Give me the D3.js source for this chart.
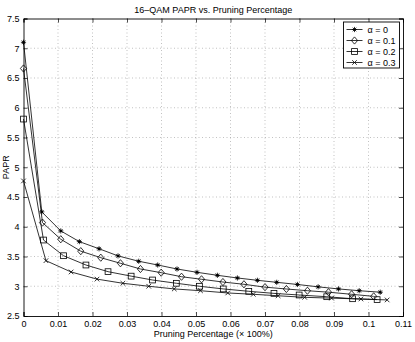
<!DOCTYPE html>
<html>
<head>
<meta charset="UTF-8">
<title>16-QAM PAPR</title>
<script type="text/javascript" src="https://d3js.org/d3.v7.min.js"></script>
<style type="text/css">
    body { margin: 0; background: #fff; }
    svg text { font-family: "Liberation Sans", Arial, sans-serif; fill: #000; }
    .grid line { stroke: #999; stroke-width: 0.6; stroke-dasharray: 1, 2.5; }
    .curve { fill: none; stroke: #000; stroke-width: 0.8; }
    .mk { fill: none; stroke: #000; stroke-width: 0.8; }
</style>
</head>
<body>
<script type="text/javascript">
    // series
    var x0 = [0, 0.0053, 0.0108, 0.0162, 0.0219, 0.0274, 0.0334, 0.0389, 0.0445, 0.0503, 0.0562, 0.0620, 0.0678, 0.0734, 0.0794, 0.0854, 0.0913, 0.0973, 0.1034];
    var y0 = [7.10, 4.25, 3.93, 3.75, 3.63, 3.51, 3.42, 3.357, 3.29, 3.234, 3.184, 3.139, 3.10, 3.066, 3.03, 2.99, 2.955, 2.925, 2.90];
    var x1 = [0, 0.0055, 0.0108, 0.0166, 0.0224, 0.0281, 0.0339, 0.0399, 0.0458, 0.0516, 0.0578, 0.0639, 0.0700, 0.0762, 0.0823, 0.0884, 0.0951, 0.1015];
    var y1 = [6.66, 4.07, 3.79, 3.59, 3.48, 3.386, 3.29, 3.228, 3.16, 3.117, 3.071, 3.033, 2.985, 2.954, 2.925, 2.90, 2.865, 2.83];
    var x2 = [0, 0.0058, 0.0116, 0.0181, 0.0245, 0.0312, 0.0374, 0.0443, 0.0510, 0.0579, 0.0653, 0.0726, 0.0799, 0.0879, 0.0954, 0.1025];
    var y2 = [5.81, 3.777, 3.513, 3.357, 3.245, 3.17, 3.105, 3.05, 3.0, 2.955, 2.915, 2.88, 2.853, 2.824, 2.79, 2.775];
    var x3 = [0, 0.0065, 0.0138, 0.0213, 0.0288, 0.0363, 0.0437, 0.0513, 0.0592, 0.0666, 0.0738, 0.0815, 0.0893, 0.0978, 0.1054];
    var y3 = [4.77, 3.43, 3.24, 3.12, 3.05, 3.0, 2.955, 2.925, 2.887, 2.865, 2.84, 2.814, 2.80, 2.786, 2.77];

    var labels = ["\u03b1 = 0", "\u03b1 = 0.1", "\u03b1 = 0.2", "\u03b1 = 0.3"];
    var markers = ["star", "diamond", "square", "cross"];
    var xTicks = [0, 0.01, 0.02, 0.03, 0.04, 0.05, 0.06, 0.07, 0.08, 0.09, 0.1, 0.11];
    var yTicks = [2.5, 3, 3.5, 4, 4.5, 5, 5.5, 6, 6.5, 7, 7.5];

    var W = 415, H = 342;
    var L = 23.5, R = 403, T = 18.5, B = 316;

    var svg = d3.select("body").append("svg").attr("width", W).attr("height", H);
    var x = d3.scaleLinear().domain([0, 0.11]).range([L, R]);
    var y = d3.scaleLinear().domain([2.5, 7.5]).range([B, T]);

    // grid
    var g = svg.append("g").attr("class", "grid");
    g.selectAll("line.v").data(xTicks.slice(1, -1)).enter().append("line")
        .attr("x1", function(d){ return x(d); }).attr("x2", function(d){ return x(d); })
        .attr("y1", T).attr("y2", B);
    g.selectAll("line.h").data(yTicks.slice(1, -1)).enter().append("line")
        .attr("x1", L).attr("x2", R)
        .attr("y1", function(d){ return y(d); }).attr("y2", function(d){ return y(d); });

    // axes, matlab style ticks pointing inward
    var fmtX = function(d){ return d === 0 ? "0" : String(+d.toFixed(2)); };
    svg.append("g").attr("transform", "translate(0," + B + ")")
        .call(d3.axisBottom(x).tickValues(xTicks).tickSize(-4).tickPadding(5).tickFormat(fmtX));
    svg.append("g").attr("transform", "translate(0," + T + ")")
        .call(d3.axisTop(x).tickValues(xTicks).tickSize(-4).tickFormat(""));
    svg.append("g").attr("transform", "translate(" + L + ",0)")
        .call(d3.axisLeft(y).tickValues(yTicks).tickSize(-4).tickPadding(4).tickFormat(function(d){ return String(d); }));
    svg.append("g").attr("transform", "translate(" + R + ",0)")
        .call(d3.axisRight(y).tickValues(yTicks).tickSize(-4).tickFormat(""));
    svg.selectAll(".domain").attr("stroke", "#000").attr("stroke-width", 0.9);
    svg.selectAll(".tick line").attr("stroke", "#000").attr("stroke-width", 0.7);
    svg.selectAll(".tick text").attr("font-size", 9).attr("font-family", "Liberation Sans, Arial, sans-serif");

    // curves
    var series = [[x0, y0], [x1, y1], [x2, y2], [x3, y3]];
    var line = d3.line().x(function(d){ return x(d[0]); }).y(function(d){ return y(d[1]); });

    function drawMarker(sel, type, cx, cy) {
        if (type === "star") {
            var r = 2.6;
            sel.append("path").attr("class", "mk")
                .attr("d", "M" + (cx - r) + "," + cy + "h" + 2 * r + "M" + cx + "," + (cy - r) + "v" + 2 * r +
                    "M" + (cx - r * 0.7) + "," + (cy - r * 0.7) + "l" + 1.4 * r + "," + 1.4 * r +
                    "M" + (cx - r * 0.7) + "," + (cy + r * 0.7) + "l" + 1.4 * r + "," + (-1.4 * r));
            sel.append("circle").attr("cx", cx).attr("cy", cy).attr("r", 1.2).attr("fill", "#000");
        } else if (type === "diamond") {
            var a = 3.6, b = 3.1;
            sel.append("path").attr("class", "mk").attr("fill", "#fff")
                .attr("d", "M" + cx + "," + (cy - a) + "L" + (cx + b) + "," + cy + "L" + cx + "," + (cy + a) + "L" + (cx - b) + "," + cy + "Z");
        } else if (type === "square") {
            var s = 2.9;
            sel.append("rect").attr("class", "mk").attr("fill", "#fff")
                .attr("x", cx - s).attr("y", cy - s).attr("width", 2 * s).attr("height", 2 * s);
        } else {
            var c = 2.3;
            sel.append("path").attr("class", "mk")
                .attr("d", "M" + (cx - c) + "," + (cy - c) + "l" + 2 * c + "," + 2 * c + "M" + (cx - c) + "," + (cy + c) + "l" + 2 * c + "," + (-2 * c));
        }
    }

    series.forEach(function(s, k) {
        var pts = d3.zip(s[0], s[1]);
        svg.append("path").attr("class", "curve").attr("d", line(pts));
        var mg = svg.append("g");
        pts.forEach(function(p) { drawMarker(mg, markers[k], x(p[0]), y(p[1])); });
    });

    // legend
    var lx = 343.5, ly = 22, lw = 56, lh = 46;
    svg.append("rect").attr("x", lx).attr("y", ly).attr("width", lw).attr("height", lh)
        .attr("fill", "#fff").attr("stroke", "#000").attr("stroke-width", 0.9);
    labels.forEach(function(lab, k) {
        var yy = ly + 7.5 + k * 11;
        var lg = svg.append("g");
        lg.append("line").attr("class", "curve").attr("x1", lx + 3).attr("x2", lx + 19).attr("y1", yy).attr("y2", yy);
        drawMarker(lg, markers[k], lx + 11, yy);
        lg.append("text").attr("x", lx + 24).attr("y", yy + 3.3).attr("font-size", 9).text(lab);
    });

    // titles
    svg.append("text").attr("x", (L + R) / 2).attr("y", 13).attr("text-anchor", "middle")
        .attr("font-size", 9).text("16\u2013QAM PAPR vs. Pruning Percentage");
    svg.append("text").attr("x", (L + R) / 2).attr("y", 337).attr("text-anchor", "middle")
        .attr("font-size", 9).text("Pruning Percentage (\u00d7 100%)");
    svg.append("text").attr("transform", "translate(9," + (T + B) / 2 + ") rotate(-90)")
        .attr("text-anchor", "middle").attr("font-size", 9).text("PAPR");
</script>
</body>
</html>
